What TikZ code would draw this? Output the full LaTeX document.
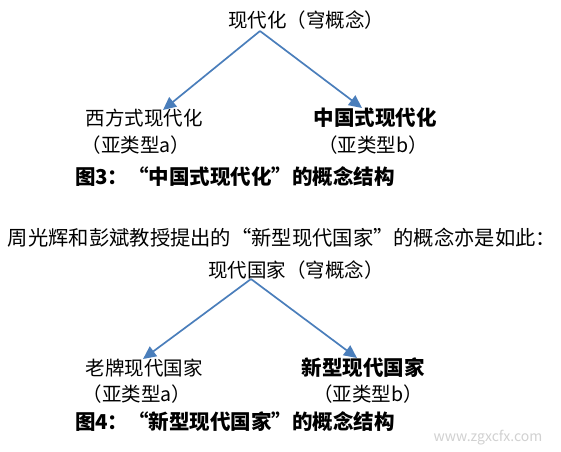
\documentclass[tikz,border=0pt]{standalone}
\usepackage{fontspec}
\setmainfont{Noto Sans CJK SC}
\usetikzlibrary{arrows.meta}

\definecolor{pfeilblau}{HTML}{4A7EBB}
\tikzset{
	txt/.style={inner sep=0pt, font=\fontsize{19.5}{22}\selectfont},
	fett/.style={inner sep=0pt, font=\fontsize{20.5}{23}\selectfont\bfseries},
	pfeil/.style={pfeilblau, line width=1.7pt, -{Triangle[length=13pt,width=12pt]}}
}

\begin{document}
\begin{tikzpicture}[x=1pt, y=-1pt]
			\useasboundingbox[fill=white] (0,0) rectangle (561,451);

			% Bild 3
			\node[txt] (T1) at (306,20) {现代化（穹概念）};
			\node[txt] (A1) at (144,118) {西方式现代化};
			\node[txt] (A1s) at (136,145) {（亚类型a）};
			\node[fett] (B1) at (375,118) {中国式现代化};
			\node[txt] (B1s) at (373,145) {（亚类型b）};
			\node[fett] (C1) at (235,177) {图3：“中国式现代化”的概念结构};

			\coordinate (R1) at (260,31);
			\coordinate (L1) at (163,110);
			\coordinate (Q1) at (362,108);

			% Pfeile Bild 3
			\draw[pfeil] (R1) -- (L1);
			\draw[pfeil] (R1) -- (Q1);

			% Zwischentext
			\node[txt, font=\fontsize{20.3}{23}\selectfont] (S) at (282,238) {周光辉和彭斌教授提出的“新型现代国家”的概念亦是如此：};

			% Bild 4
			\node[txt] (T2) at (296,270) {现代国家（穹概念）};
			\node[txt] (A2) at (144,368) {老牌现代国家};
			\node[txt] (A2s) at (137,394) {（亚类型a）};
			\node[fett] (B2) at (363,368) {新型现代国家};
			\node[txt] (B2s) at (368,394) {（亚类型b）};
			\node[fett] (C2) at (235,422) {图4：“新型现代国家”的概念结构};

			\coordinate (R2) at (251,279);
			\coordinate (L2) at (143,359);
			\coordinate (Q2) at (357,358);

			% Pfeile Bild 4
			\draw[pfeil] (R2) -- (L2);
			\draw[pfeil] (R2) -- (Q2);

			% Wasserzeichen
			\node[inner sep=0pt, text=black!18, font=\rmfamily\fontsize{14}{16}\selectfont] (W) at (488,438) {www.zgxcfx.com};

		\end{tikzpicture}
\end{document}
